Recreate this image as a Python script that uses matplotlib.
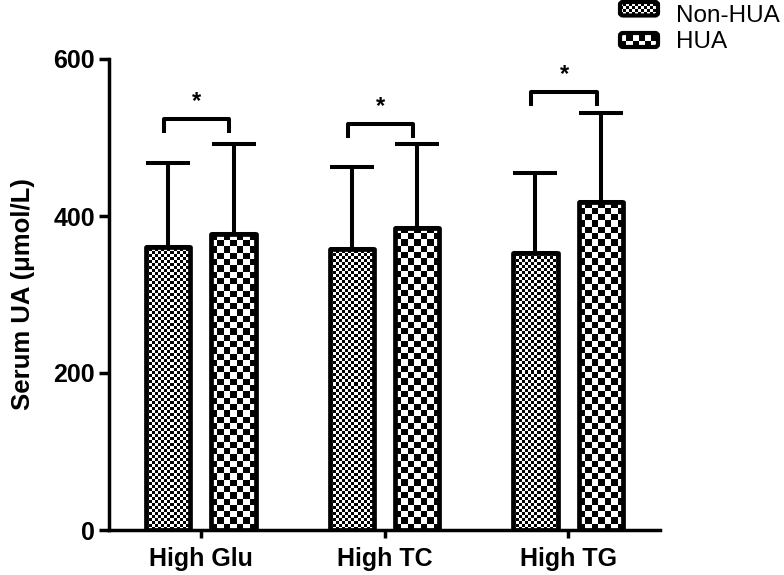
import numpy as np
import matplotlib
matplotlib.use("Agg")
import matplotlib.pyplot as plt
from matplotlib.patches import FancyBboxPatch

plt.rcParams['font.family'] = ['Liberation Sans', 'DejaVu Sans']

# ---------------- data ----------------
groups = ['High Glu', 'High TC', 'High TG']
series_names = ['Non-HUA', 'HUA']
non_hua_mean = [360, 358, 353]
non_hua_sd = [107, 105, 102]
hua_mean = [377, 385, 418]
hua_sd = [115, 107, 113]
sig_heights = [524, 517, 558]
sig_labels = ['*', '*', '*']
yticks = [0, 200, 400, 600]
ylabel = 'Serum UA (\u03bcmol/L)'

# ---------------- layout ----------------
W, H, DPI = 784, 575, 100
fig = plt.figure(figsize=(W / DPI, H / DPI), dpi=DPI)
ax = fig.add_axes([109 / W, 45 / H, 551 / W, 471 / H])
ax.set_xlim(-0.5, 2.5)
ax.set_ylim(0, 600)

FS = 18
LW = 2.9
x = np.arange(len(groups))
off = 0.178
bw = 0.24
cells = [3.0, 6.3]

def checker(ax, bar, cell_px):
    sx = ax.transData.transform((1, 0))[0] - ax.transData.transform((0, 0))[0]
    sy = ax.transData.transform((0, 1))[1] - ax.transData.transform((0, 0))[1]
    x0, y0 = bar.get_x(), bar.get_y()
    w, h = bar.get_width(), bar.get_height()
    dx, dy = cell_px / sx, cell_px / sy
    nx = int(np.ceil(w / dx)) + 1
    ny = int(np.ceil(h / dy)) + 1
    arr = np.add.outer(np.arange(ny), np.arange(nx)) % 2
    im = ax.imshow(arr, cmap='gray', vmin=0, vmax=1, origin='lower',
                   extent=[x0, x0 + nx * dx, y0, y0 + ny * dy],
                   interpolation='nearest', aspect='auto', zorder=2.5)
    im.set_clip_path(bar)

all_means = [non_hua_mean, hua_mean]
all_sds = [non_hua_sd, hua_sd]
for k, (m, s) in enumerate(zip(all_means, all_sds)):
    pos = x + (-off if k == 0 else off)
    ax.errorbar(pos, m, yerr=[np.zeros(len(s)), s], fmt='none', ecolor='black',
                elinewidth=LW, capsize=16, capthick=LW, zorder=2)
    bars = ax.bar(pos, m, width=bw, facecolor='white', edgecolor='black',
                  linewidth=3.4, zorder=3, joinstyle='round')
    for b in bars:
        b.set_facecolor('none')
        checker(ax, b, cells[k])

# significance brackets
for i, (hgt, lab) in enumerate(zip(sig_heights, sig_labels)):
    xl = x[i] - off - 0.022
    xr = x[i] + off - 0.022
    ax.plot([xl, xl, xr, xr], [hgt - 18, hgt, hgt, hgt - 18], color='black',
            lw=LW, solid_joinstyle='round', solid_capstyle='butt', zorder=4)
    ax.text((xl + xr) / 2, hgt + 14, lab, ha='center', va='baseline',
            fontsize=17, fontweight='bold')

# axes styling
for sp in ['top', 'right']:
    ax.spines[sp].set_visible(False)
for sp in ['left', 'bottom']:
    ax.spines[sp].set_linewidth(2.5)
ax.set_yticks(yticks)
ax.set_xticks(x)
ax.set_xticklabels(groups)
ax.tick_params(axis='y', length=7, width=2.5, pad=3, labelsize=FS)
ax.tick_params(axis='x', length=6, width=2.5, pad=6, labelsize=FS)
for t in ax.get_xticklabels() + ax.get_yticklabels():
    t.set_fontweight('bold')
ax.set_ylabel(ylabel, fontsize=18.5, fontweight='bold')
ax.yaxis.set_label_coords((35 - 109) / 551, 0.5)

# legend (manual, with checkerboard swatches)
leg_rows = [(2, 15.5), (33, 47)]
for k, name in enumerate(series_names):
    top, bot = leg_rows[k]
    lax = fig.add_axes([620 / W, (H - bot) / H, 38 / W, (bot - top) / H])
    lax.set_axis_off()
    lax.set_xlim(0, 1)
    lax.set_ylim(0, 1)
    pw, ph = 38, bot - top
    nx = int(np.ceil(pw / cells[k])) + 1
    ny = int(np.ceil(ph / cells[k])) + 1
    arr = np.add.outer(np.arange(ny), np.arange(nx)) % 2
    im = lax.imshow(arr, cmap='gray', vmin=0, vmax=1, origin='lower',
                    extent=[0, nx * cells[k] / pw, 0, ny * cells[k] / ph],
                    interpolation='nearest', aspect='auto')
    box = FancyBboxPatch((0, 0), 1, 1, boxstyle='round,pad=0,rounding_size=0.08',
                         facecolor='none', edgecolor='black', linewidth=3,
                         transform=lax.transAxes, clip_on=False, mutation_aspect=2.5)
    lax.add_patch(box)
    im.set_clip_path(box)
    fig.text(676 / W, (H - (22 if k == 0 else 48)) / H, name, fontsize=17.5,
             ha='left', va='baseline')

fig.savefig('out.png', dpi=DPI)
